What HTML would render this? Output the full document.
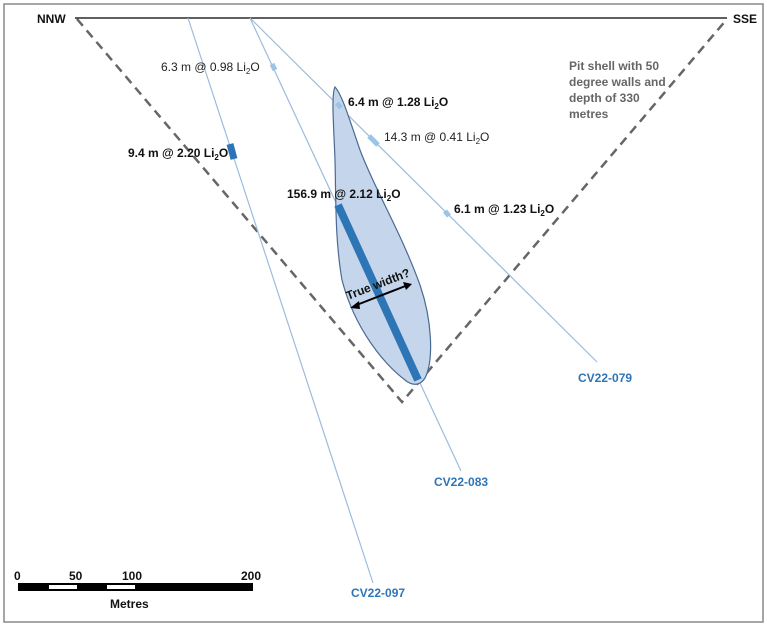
<!DOCTYPE html>
<html><head><meta charset="utf-8"><style>
body{margin:0;background:#fff;}
svg{display:block;font-family:"Liberation Sans",sans-serif;}
.b{font-weight:bold;font-size:12px;fill:#111;}
.n{font-size:12px;fill:#222;}
.lab{font-weight:bold;font-size:12px;fill:#2e75b6;}
</style></head><body>
<svg width="767" height="627" viewBox="0 0 767 627">
<rect x="4" y="4" width="759" height="618" fill="#fff" stroke="#888" stroke-width="1.5"/>
<line x1="75" y1="18" x2="727" y2="18" stroke="#000" stroke-width="1.3"/>
<polyline points="77,19 402,402 727,19" fill="none" stroke="#666" stroke-width="2.5" stroke-dasharray="9,6"/>
<line x1="188" y1="18" x2="373" y2="583" stroke="#9dbbdc" stroke-width="1.2"/>
<line x1="250" y1="18" x2="461" y2="471" stroke="#9dbbdc" stroke-width="1.2"/>
<line x1="250" y1="18" x2="597" y2="362" stroke="#9dbbdc" stroke-width="1.2"/>
<path d="M335,87 C342,95 348,115 360,150 C375,190 400,230 420,285 C432,320 434,360 425,378 C420,386 412,386 405,380 C385,365 355,330 342,280 C335,240 336,200 335,160 C334,130 331,95 335,87 Z" fill="#c5d6ec" stroke="#4a6a92" stroke-width="1.2"/>
<line x1="338" y1="205" x2="418" y2="380" stroke="#2e75b6" stroke-width="8"/>
<line x1="230" y1="144" x2="234" y2="159" stroke="#2e75b6" stroke-width="7"/>
<line x1="272" y1="64" x2="275" y2="70" stroke="#9dc3e6" stroke-width="5"/>
<line x1="337" y1="103" x2="341" y2="108" stroke="#9dc3e6" stroke-width="5"/>
<line x1="369" y1="136" x2="378" y2="145" stroke="#9dc3e6" stroke-width="5"/>
<line x1="445" y1="211" x2="449" y2="216" stroke="#9dc3e6" stroke-width="5"/>
<line x1="354" y1="306" x2="408" y2="285" stroke="#000" stroke-width="2"/>
<polygon points="350,308 359,301 360,309" fill="#000"/>
<polygon points="412,284 403,282 406,290" fill="#000"/>
<text class="b" transform="translate(348,300) rotate(-21)" font-size="11">True width?</text>
<text class="b" x="37" y="23">NNW</text>
<text class="b" x="733" y="23">SSE</text>
<text class="n" x="161" y="71">6.3 m @ 0.98 Li<tspan font-size="8" dy="3">2</tspan><tspan dy="-3">O</tspan></text>
<text class="b" x="348" y="106">6.4 m @ 1.28 Li<tspan font-size="8" dy="3">2</tspan><tspan dy="-3">O</tspan></text>
<text class="n" x="384" y="141">14.3 m @ 0.41 Li<tspan font-size="8" dy="3">2</tspan><tspan dy="-3">O</tspan></text>
<text class="b" x="128" y="157">9.4 m @ 2.20 Li<tspan font-size="8" dy="3">2</tspan><tspan dy="-3">O</tspan></text>
<text class="b" x="287" y="198">156.9 m @ 2.12 Li<tspan font-size="8" dy="3">2</tspan><tspan dy="-3">O</tspan></text>
<text class="b" x="454" y="213">6.1 m @ 1.23 Li<tspan font-size="8" dy="3">2</tspan><tspan dy="-3">O</tspan></text>
<g class="b" style="fill:#666"><text x="569" y="70">Pit shell with 50</text><text x="569" y="86">degree walls and</text><text x="569" y="102">depth of 330</text><text x="569" y="118">metres</text></g>
<text class="lab" x="578" y="382">CV22-079</text>
<text class="lab" x="434" y="486">CV22-083</text>
<text class="lab" x="351" y="597">CV22-097</text>
<rect x="18" y="583" width="235" height="8" fill="#000"/>
<rect x="49" y="585" width="28" height="4" fill="#fff"/>
<rect x="107" y="585" width="28" height="4" fill="#fff"/>
<g class="b" font-size="13"><text x="14" y="580">0</text><text x="69" y="580">50</text><text x="122" y="580">100</text><text x="241" y="580">200</text><text x="110" y="608">Metres</text></g>
</svg>
</body></html>
